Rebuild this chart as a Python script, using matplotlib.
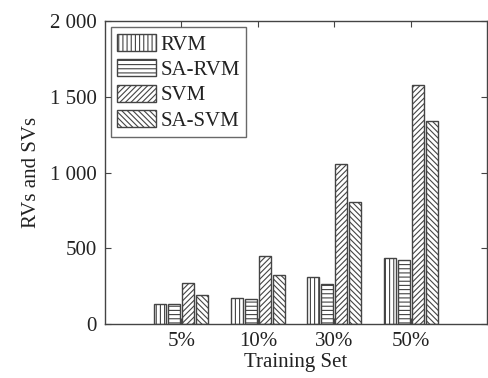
import matplotlib
matplotlib.use("Agg")
import matplotlib.pyplot as plt
import numpy as np

plt.rcParams['font.family'] = ['Liberation Serif', 'DejaVu Serif']
plt.rcParams['hatch.linewidth'] = 0.8
plt.rcParams['hatch.color'] = '#444444'

categories = ['5%', '10%', '30%', '50%']
series_names = ['RVM', 'SA-RVM', 'SVM', 'SA-SVM']
rvm = [134, 174, 313, 435]
sa_rvm = [130, 163, 267, 422]
svm = [273, 450, 1058, 1578]
sa_svm = [190, 324, 808, 1338]
yticks = [0, 500, 1000, 1500, 2000]
ytick_labels = ['0', '500', '1 000', '1 500', '2 000']

values = [rvm, sa_rvm, svm, sa_svm]
hatches = ['||||', '----', '//////', '\\\\\\\\\\\\']

fig = plt.figure(figsize=(4.89, 3.78), dpi=100)
ax = fig.add_axes([0.2147, 0.143, 0.7813, 0.801])

x = np.arange(1, len(categories) + 1)
step = 0.183
width = 0.157
for i, (name, vals, h) in enumerate(zip(series_names, values, hatches)):
    ax.bar(x + (i - 1.5) * step, vals, width, label=name, facecolor='white',
           edgecolor='#444444', hatch=h, linewidth=1.0)

fs = 15
ax.set_xlim(0, 5)
ax.set_ylim(0, 2000)
ax.set_xticks(x)
ax.set_xticklabels(categories)
ax.set_yticks(yticks)
ax.set_yticklabels(ytick_labels)
ax.tick_params(direction='in', top=True, right=True, labelsize=fs, length=4,
               color='#444444', pad=6)
for s in ax.spines.values():
    s.set_color('#444444')
    s.set_linewidth(1.0)
ax.set_xlabel('Training Set', fontsize=fs, labelpad=1)
ax.set_ylabel('RVs and SVs', fontsize=fs, labelpad=6)
ax.xaxis.label.set_color('#222222')
ax.yaxis.label.set_color('#222222')
for t in ax.get_xticklabels() + ax.get_yticklabels():
    t.set_color('#222222')

leg = ax.legend(loc='upper left', fontsize=fs, frameon=True, fancybox=False,
                handlelength=1.85, handleheight=0.9, handletextpad=0.2,
                labelspacing=0.22, borderpad=0.3, borderaxespad=0.3)
leg.get_frame().set_edgecolor('#444444')
leg.get_frame().set_linewidth(1.0)
for t in leg.get_texts():
    t.set_color('#222222')

fig.savefig('out.png', dpi=100)
